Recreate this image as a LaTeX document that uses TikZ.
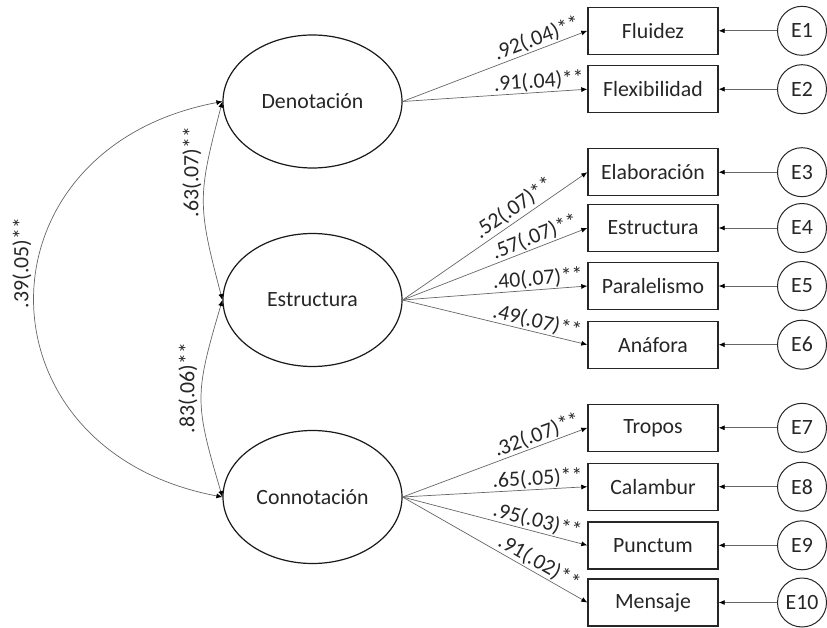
\documentclass[tikz,border=0pt]{standalone}
\usepackage{fontspec}
\setmainfont{Carlito}
\usetikzlibrary{arrows.meta,shapes.geometric}
\begin{document}
\begin{tikzpicture}[x=1pt,y=-1pt,
  every node/.style={font=\fontsize{21.8}{26}\selectfont, text=black!85},
  latent/.style={draw=black!90, line width=1.2pt, ellipse, minimum width=179pt, minimum height=133pt, inner sep=0pt},
  indicator/.style={draw=black!85, line width=1.4pt, rectangle, minimum width=130pt, minimum height=47pt, inner sep=0pt},
  errnode/.style={draw=black!85, line width=1pt, circle, minimum size=49pt, inner sep=0pt},
  tip/.style={-{Latex[length=6pt,width=5pt,color=black]}},
  load/.style={tip, draw=black!60, line width=0.7pt},
  cov/.style={{Latex[length=6pt,width=5pt,color=black]}-{Latex[length=6pt,width=5pt,color=black]}, draw=black!60, line width=0.7pt},
  lab/.style={sloped, above, inner sep=1pt},
  corr/.style={rotate=90, inner sep=0pt}
]
\useasboundingbox (0,0) rectangle (827,628);

% latent factors
\node[latent] (den) at (312.5,101.5) {Denotación};
\node[latent] (est) at (312.5,300) {Estructura};
\node[latent] (con) at (312.5,497) {Connotación};

% observed indicators
\node[indicator] (b1)  at (653,30.8)  {Fluidez};
\node[indicator] (b2)  at (653,89.2)  {Flexibilidad};
\node[indicator] (b3)  at (653,172.2) {Elaboración};
\node[indicator] (b4)  at (653,228)   {Estructura};
\node[indicator] (b5)  at (653,286)   {Paralelismo};
\node[indicator] (b6)  at (653,344.7) {Anáfora};
\node[indicator] (b7)  at (653,427.8) {Tropos};
\node[indicator] (b8)  at (653,486.7) {Calambur};
\node[indicator] (b9)  at (653,545.3) {Punctum};
\node[indicator] (b10) at (653,602.5) {Mensaje};

% error terms
\foreach \i/\y in {1/30.8,2/89.2,3/172.2,4/228,5/286,6/344.7,7/427.8,8/486.7,9/545.3,10/602.5}{
  \node[errnode] (e\i) at (802,\y) {E\i};
  \draw[load] (e\i.west) -- (b\i.east);
}

% factor loadings
\draw[load] (den.east) -- node[lab,pos=0.748] {.92(.04)**} (b1.west);
\draw[load] (den.east) -- node[lab,pos=0.742] {.91(.04)**} (b2.west);
\draw[load] (est.east) -- node[lab,pos=0.64,inner sep=2.5pt] {.52(.07)**} (b3.west);
\draw[load] (est.east) -- node[lab,pos=0.737] {.57(.07)**} (b4.west);
\draw[load] (est.east) -- node[lab,pos=0.737] {.40(.07)**} (b5.west);
\draw[load] (est.east) -- node[lab,pos=0.715] {.49(.07)**} (b6.west);
\draw[load] (con.east) -- node[lab,pos=0.748] {.32(.07)**} (b7.west);
\draw[load] (con.east) -- node[lab,pos=0.734] {.65(.05)**} (b8.west);
\draw[load] (con.east) -- node[lab,pos=0.715] {.95(.03)**} (b9.west);
\draw[load] (con.east) -- node[lab,pos=0.71]  {.91(.02)**} (b10.west);

% factor correlations
\draw[cov] (den.west) .. controls +(-250,47) and +(-250,-47) .. (con.west);
\draw[cov] (den.west) .. controls +(-25,95) and +(-25,-95) .. (est.west);
\draw[cov] (est.west) .. controls +(-28,95) and +(-28,-95) .. (con.west);

\node[corr] (r39) at (22,263) {.39(.05)**};
\node[corr] (r63) at (192,172) {.63(.07)**};
\node[corr] (r83) at (188,388) {.83(.06)**};
\end{tikzpicture}
\end{document}
